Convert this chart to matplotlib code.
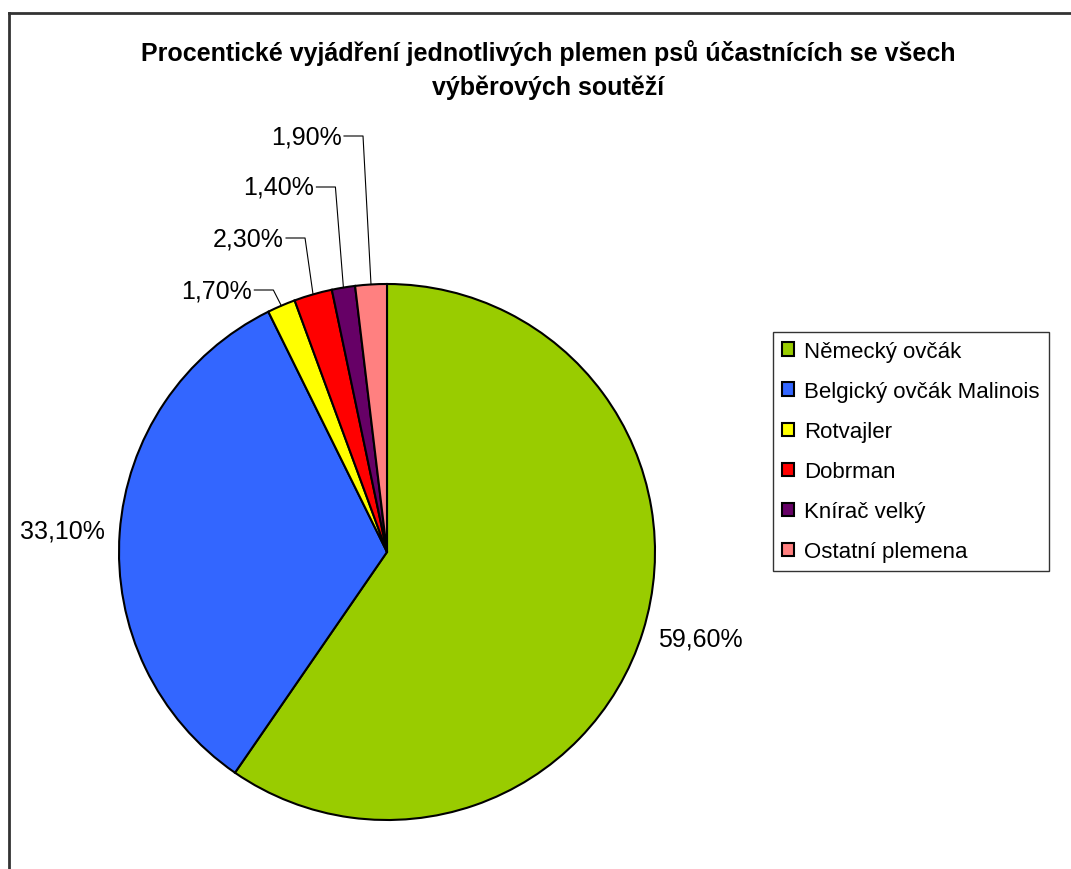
import matplotlib
matplotlib.use('Agg')
import matplotlib.pyplot as plt
from matplotlib.lines import Line2D
import numpy as np

plt.rcParams['font.family'] = ['Liberation Sans', 'DejaVu Sans']

# data
breeds = ['Německý ovčák', 'Belgický ovčák Malinois', 'Rotvajler',
          'Dobrman', 'Knírač velký', 'Ostatní plemena']
shares = [59.6, 33.1, 1.7, 2.3, 1.4, 1.9]
pct_labels = ['59,60%', '33,10%', '1,70%', '2,30%', '1,40%', '1,90%']
colors = ['#99CC00', '#3366FF', '#FFFF00', '#FF0000', '#660066', '#FF8080']

W, H = 1071, 870
fig = plt.figure(figsize=(W / 100, H / 100), dpi=100)
ax = fig.add_axes([0, 0, 1, 1])

# pie in pixel-like coordinates (y up)
cx, cy, r = 387, H - 553, 268
wedges, _ = ax.pie(shares, colors=colors, startangle=90, counterclock=False,
                   center=(cx, cy), radius=r,
                   wedgeprops=dict(edgecolor='black', linewidth=1.5))
ax.set_xlim(0, W)
ax.set_ylim(0, H)
ax.set_aspect('equal')
ax.axis('off')

# labels for the two big slices, placed beside the pie
big_pos = {0: (700, H - 640), 1: (62, H - 531)}
for i, (x, y) in big_pos.items():
    ax.text(x, y, pct_labels[i], ha='center', va='center', fontsize=18)

# small slices get leader lines
small_text_y = {2: 291, 3: 239, 4: 188, 5: 137}
for i in [2, 3, 4, 5]:
    w = wedges[i]
    mid = np.deg2rad((w.theta1 + w.theta2) / 2)
    px = cx + r * np.cos(mid)
    py = cy + r * np.sin(mid)
    ty = H - small_text_y[i]
    elbow = px - 8
    tx = elbow - 19
    ax.plot([tx, elbow, px], [ty, ty, py], color='black', lw=0.8)
    ax.text(tx - 2, ty, pct_labels[i], ha='right', va='center', fontsize=18)

ax.text(548, H - 70, 'Procentické vyjádření jednotlivých plemen psů účastnících se všech\nvýběrových soutěží',
        ha='center', va='center', fontsize=18, fontweight='bold', linespacing=1.5)

leg = ax.legend(wedges, breeds, loc='upper left',
                bbox_to_anchor=(773 / W, 1 - 333 / H), bbox_transform=fig.transFigure,
                fontsize=16, frameon=True, fancybox=False, edgecolor='black',
                handlelength=0.55, handleheight=0.55, handletextpad=0.45,
                labelspacing=0.86, borderpad=0.4, borderaxespad=0)
leg.get_frame().set_linewidth(1)

# outer chart frame (only top and left visible)
fig.add_artist(Line2D([9 / W, 1], [1 - 14 / H, 1 - 14 / H], color='#333333', lw=2))
fig.add_artist(Line2D([9 / W, 9 / W], [0, 1 - 14 / H], color='#333333', lw=2))

fig.savefig('out.png', dpi=100)
